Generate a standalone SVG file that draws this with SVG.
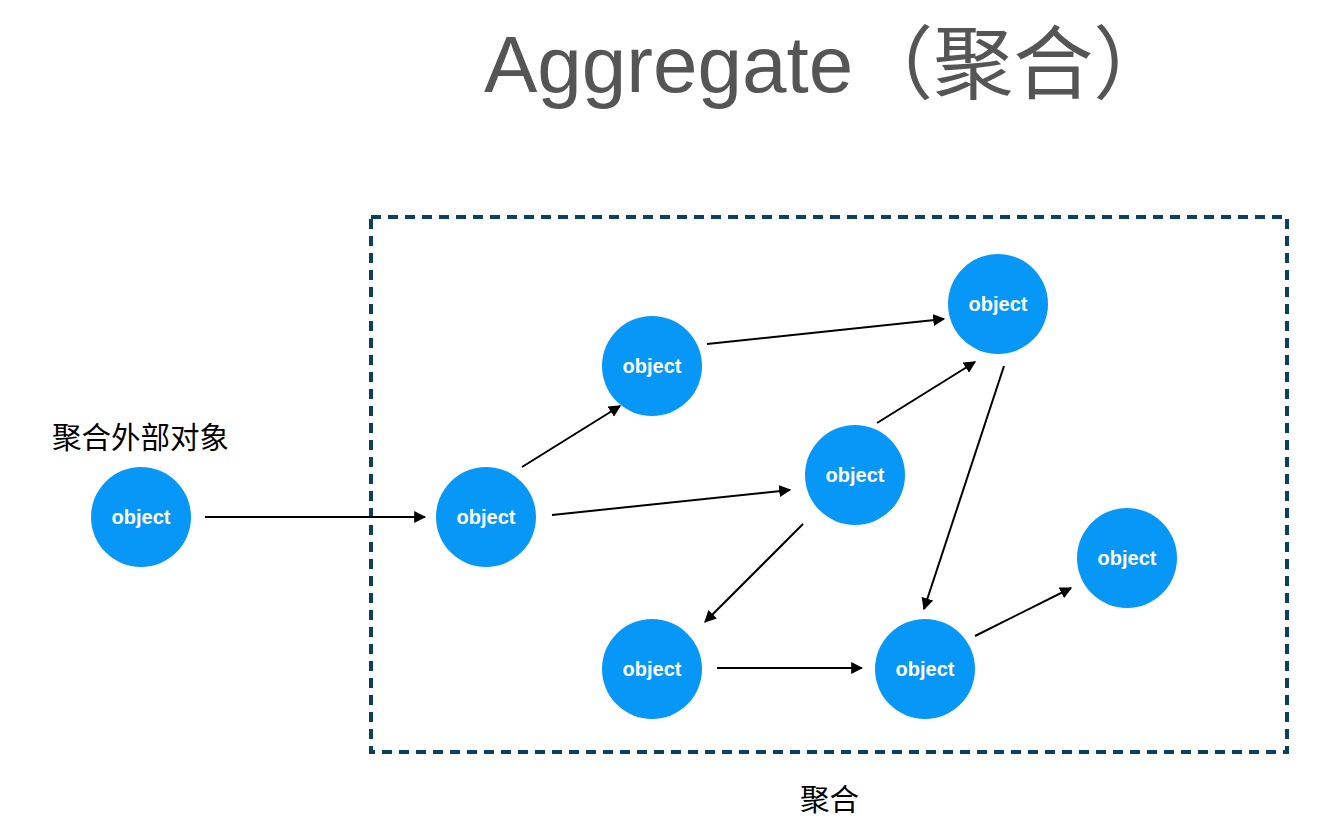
<svg xmlns="http://www.w3.org/2000/svg" width="1332" height="820" viewBox="0 0 1332 820">
<style>
.n circle{fill:#0797f7}
.n text{fill:#fff;font-family:"Liberation Sans",Arial,sans-serif;font-weight:bold;font-size:20px;text-anchor:middle}
.c line{stroke:#000;stroke-width:2;marker-end:url(#ah)}
.lbl{font-family:"Liberation Sans","Noto Sans CJK SC",sans-serif;font-size:29.5px;fill:#000}
</style>
<defs>
<marker id="ah" viewBox="0 0 10 10" refX="9" refY="5" markerWidth="6" markerHeight="6" orient="auto" markerUnits="strokeWidth">
<path d="M0,0 L10,5 L0,10 z" fill="#000"/>
</marker>
</defs>
<rect width="1332" height="820" fill="#fff"/>
<text x="484" y="92" font-family="Liberation Sans,'Noto Sans CJK SC',sans-serif" font-size="80" fill="#555">Aggregate（聚合）</text>
<rect id="aggregate" x="371" y="217" width="916" height="535" fill="none" stroke="#0b3f63" stroke-width="4" stroke-dasharray="10 7"/>
<text class="lbl" x="52" y="448">聚合外部对象</text>
<text class="lbl" x="800" y="810">聚合</text>
<g class="c">
<line x1="205" y1="517" x2="425" y2="517"/>
<line x1="522" y1="467" x2="620" y2="406"/>
<line x1="552" y1="515" x2="790" y2="490"/>
<line x1="707" y1="344" x2="944" y2="319"/>
<line x1="877" y1="423" x2="975" y2="362"/>
<line x1="1004" y1="366" x2="924" y2="609"/>
<line x1="803" y1="524" x2="705" y2="622"/>
<line x1="717" y1="668" x2="862" y2="668"/>
<line x1="975" y1="636" x2="1071" y2="588"/>
</g>
<g id="ext" class="n"><circle cx="141" cy="517" r="50"/><text x="141" y="524">object</text></g>
<g id="b" class="n"><circle cx="486" cy="517" r="50"/><text x="486" y="524">object</text></g>
<g id="c" class="n"><circle cx="652" cy="366" r="50"/><text x="652" y="373">object</text></g>
<g id="d" class="n"><circle cx="998" cy="304" r="50"/><text x="998" y="311">object</text></g>
<g id="e" class="n"><circle cx="855" cy="475" r="50"/><text x="855" y="482">object</text></g>
<g id="f" class="n"><circle cx="1127" cy="558" r="50"/><text x="1127" y="565">object</text></g>
<g id="g" class="n"><circle cx="652" cy="669" r="50"/><text x="652" y="676">object</text></g>
<g id="h" class="n"><circle cx="925" cy="669" r="50"/><text x="925" y="676">object</text></g>
</svg>
